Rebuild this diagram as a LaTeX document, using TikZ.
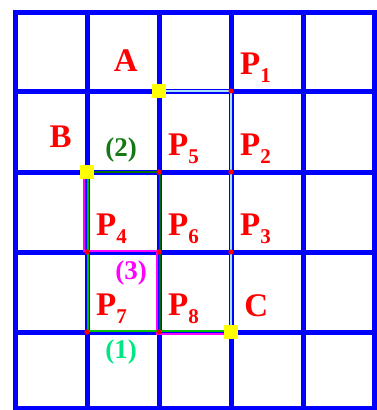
\documentclass[tikz,border=0pt]{standalone}
\usepackage{fontspec}
\setmainfont{Liberation Serif}
\usetikzlibrary{positioning}
\definecolor{gridblue}{RGB}{0,0,255}
\definecolor{pathone}{RGB}{0,190,0}
\definecolor{pathtwo}{RGB}{0,110,0}
\definecolor{paththree}{RGB}{255,0,255}
\definecolor{labone}{RGB}{0,230,130}
\definecolor{labtwo}{RGB}{20,120,20}
\definecolor{ptred}{RGB}{255,0,0}
\definecolor{endyellow}{RGB}{255,255,0}
\tikzset{
  gridline/.style={draw=gridblue,line width=5pt},
  ptdot/.style={circle,fill=ptred,minimum size=5pt,inner sep=0pt},
  endpt/.style={rectangle,fill=endyellow,minimum size=13pt,inner sep=0pt},
  ptlabel/.style={text=ptred,font=\fontsize{33}{35}\selectfont\bfseries,inner sep=0pt},
  numlabel/.style={font=\fontsize{27}{29}\selectfont\bfseries,inner sep=0pt}
}
\newcommand{\Pn}[1]{P\raisebox{-8pt}{\fontsize{21}{21}\selectfont #1}}

\begin{document}
\begin{tikzpicture}[
  x=1pt,y=-1pt,
  route/.style={line width=1.6pt,line join=miter},
  shortcut/.style={draw=gridblue,line width=0.9pt,double=cyan!35,double distance=1.8pt}
]
  \useasboundingbox (0,0) rectangle (377,410);

  % --- Grid (5 x 5 cells) ---
  \draw[gridline] (15,12) rectangle (374.5,408);
  \foreach \gx in {87,159,231,303}
    \draw[gridline] (\gx,12) -- (\gx,408);
  \foreach \gy in {91,172,252,332}
    \draw[gridline] (15,\gy) -- (374.5,\gy);

  % --- End points (yellow) ---
  \node[endpt] (A) at (159, 91)  {};
  \node[endpt] (B) at (87, 172)  {};
  \node[endpt] (C) at (231, 332) {};

  % --- Grid points on the routes ---
  \node[ptdot] (P1) at (231, 91)  {};
  \node[ptdot] (P2) at (231, 172) {};
  \node[ptdot] (P3) at (231, 252) {};
  \node[ptdot] (P4) at (87, 252)  {};
  \node[ptdot] (P5) at (159, 172) {};
  \node[ptdot] (P6) at (159, 252) {};
  \node[ptdot] (P7) at (87, 332)  {};
  \node[ptdot] (P8) at (159, 332) {};

  % --- Route A -> P1 -> C ---
  \draw[shortcut] (A.center) -- (P1.center) -- (C.center);

  % --- Routes B -> C: (3), (2), (1) ---
  \draw[route,draw=paththree] ([shift={(-3,0)}]B.center) -- ([shift={(-3,-1)}]P4.center)
    -- ([shift={(-2,-1)}]P6.center) -- ([shift={(-2,2)}]P8.center) -- ([shift={(0,2)}]C.center);
  \draw[route,draw=pathtwo] ([shift={(1,0)}]B.center) -- ([shift={(1,0)}]P5.center)
    -- ([shift={(1,-1)}]P8.center) -- ([shift={(0,-1)}]C.center);
  \draw[route,draw=pathone] ([shift={(1,0)}]B.center) -- ([shift={(1,-1)}]P7.center)
    -- ([shift={(0,-1)}]C.center);

  % --- Dots on top ---
  \foreach \p in {P1,P2,P3,P4,P5,P6,P7,P8}
    \fill[ptred] (\p) circle (2.5pt);
  \foreach \e in {A,B,C}
    \fill[endyellow] (\e.north west) rectangle (\e.south east);

  % --- Labels ---
  \node[ptlabel,above left=12.5pt and 14.5pt of A] (labA) {A};
  \node[ptlabel,above left=17.5pt and 8.5pt of B]  (labB) {B};
  \node[ptlabel,above right=8.5pt and 6.5pt of C]  (labC) {C};
  \node[ptlabel,above right=6pt and 7pt of P1] (labP1) {\Pn{1}};
  \node[ptlabel,above right=6pt and 7pt of P2] (labP2) {\Pn{2}};
  \node[ptlabel,above right=6pt and 7pt of P3] (labP3) {\Pn{3}};
  \node[ptlabel,above right=6pt and 7pt of P4] (labP4) {\Pn{4}};
  \node[ptlabel,above right=6pt and 7pt of P5] (labP5) {\Pn{5}};
  \node[ptlabel,above right=6pt and 7pt of P6] (labP6) {\Pn{6}};
  \node[ptlabel,above right=6pt and 7pt of P7] (labP7) {\Pn{7}};
  \node[ptlabel,above right=6pt and 7pt of P8] (labP8) {\Pn{8}};
  \node[numlabel,text=labtwo]    (lab2) at (121, 150) {(2)};
  \node[numlabel,text=paththree] (lab3) at (131, 273) {(3)};
  \node[numlabel,text=labone]    (lab1) at (121, 352) {(1)};
\end{tikzpicture}
\end{document}
